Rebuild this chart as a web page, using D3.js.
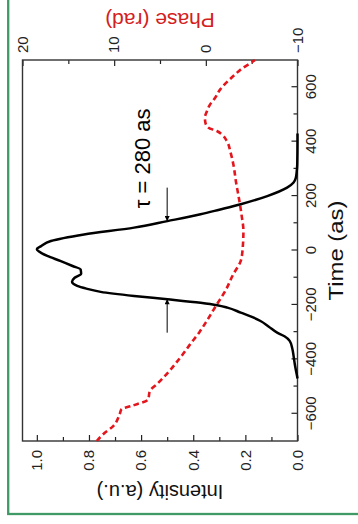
<!DOCTYPE html>
<html>
<head>
<meta charset="utf-8">
<script src="https://cdn.jsdelivr.net/npm/d3@7"></script>
<style>
  body { margin: 0; background: #fff; }
  text { font-family: "Liberation Sans", Arial, sans-serif; }
</style>
</head>
<body>
<svg width="358" height="524"></svg>
<script>
// intensity pulse: [time (as), intensity (a.u.)]
const intensity = [
  [-470, 0], [-455, 0.003], [-420, 0.01], [-394, 0.014], [-360, 0.02], [-332, 0.03],
  [-315, 0.05], [-302, 0.078], [-280, 0.11], [-259, 0.142], [-240, 0.185], [-228, 0.218],
  [-210, 0.269], [-201, 0.308], [-192, 0.372], [-179, 0.499], [-167, 0.627], [-152, 0.755],
  [-140, 0.81], [-130, 0.845], [-115, 0.865], [-100, 0.855], [-85, 0.83], [-70, 0.832],
  [-57, 0.863], [-39, 0.908], [-20, 0.96], [-5, 0.99], [5, 1.0], [15, 0.985],
  [35, 0.946], [59, 0.819], [84, 0.627], [108, 0.499], [133, 0.372], [150, 0.3],
  [170, 0.218], [200, 0.116], [231, 0.04], [250, 0.015], [265, 0.007], [290, 0.003],
  [317, 0.001], [400, 0], [430, 0]
];

// spectral phase: [time (as), phase (rad)]
const phase = [
  [-700, 11.9], [-675, 11.2], [-645, 10.1], [-602, 9.4], [-583, 9.2], [-571, 8.1],
  [-547, 6.3], [-516, 6.1], [-490, 5.3], [-455, 4.3], [-394, 2.8], [-344, 1.7],
  [-300, 0.7], [-259, -0.1], [-198, -1.2], [-150, -2.1], [-87, -3.0], [-39, -3.8],
  [0, -4.0], [72, -4.1], [130, -3.9], [194, -3.6], [250, -3.3], [317, -3.0],
  [360, -2.7], [402, -2.3], [425, -1.8], [439, -1.2], [451, -0.3], [470, 0.05],
  [488, 0.1], [510, -0.1], [537, -0.47], [560, -1.0], [592, -1.57], [641, -3.0],
  [670, -4.0], [696, -5.2], [700, -5.35]
];

const timeTicks = [-600, -400, -200, 0, 200, 400, 600];
const timeMinor = [-500, -300, -100, 100, 300, 500];
const intTicks = [0.0, 0.2, 0.4, 0.6, 0.8, 1.0];
const intMinor = [0.1, 0.3, 0.5, 0.7, 0.9];
const phaseTicks = [-10, 0, 10, 20];
const phaseMinor = [-5, 5, 15];

// FWHM annotation
const fwhmLabel = "\u03c4 = 280 as";
const fwhmArrows = [[231, 108], [-302, -179]]; // [from, to] in time at half maximum
const halfMax = 0.5;

const W = 381, H = 275;
const svg = d3.select('svg');

// green outer frame
svg.append('rect')
  .attr('x', 8.2).attr('y', -10)
  .attr('width', 400).attr('height', 524)
  .attr('fill', 'none')
  .attr('stroke', '#3f9a66')
  .attr('stroke-width', 2.3);

// the whole chart is drawn upright and then turned a quarter to the left
const g = svg.append('g').attr('transform', 'translate(22.5,441) rotate(-90)');

const x = d3.scaleLinear().domain([-700, 700]).range([0, W]);
const yI = d3.scaleLinear().domain([0, 1.055]).range([H, 0]);
const yP = d3.scaleLinear().domain([-10, 20]).range([H, 0]);

const fmt1 = d3.format('.1f');

function style(sel) {
  sel.select('.domain').remove();
  sel.selectAll('line').attr('stroke', '#222').attr('stroke-width', 1.2);
  sel.selectAll('text').attr('fill', '#222').style('font-size', '15px');
}

// bottom: time
g.append('g').attr('transform', `translate(0,${H})`)
  .call(d3.axisBottom(x).tickValues(timeTicks).tickSize(-6).tickPadding(8).tickFormat(d3.format('d')))
  .call(style);
g.append('g').attr('transform', `translate(0,${H})`)
  .call(d3.axisBottom(x).tickValues(timeMinor).tickSize(-4).tickFormat(''))
  .call(style);

// left: intensity
g.append('g')
  .call(d3.axisLeft(yI).tickValues(intTicks).tickSize(-6).tickPadding(9).tickFormat(fmt1))
  .call(style);
g.append('g')
  .call(d3.axisLeft(yI).tickValues(intMinor).tickSize(-4).tickFormat(''))
  .call(style);

// right: phase
g.append('g').attr('transform', `translate(${W},0)`)
  .call(d3.axisRight(yP).tickValues(phaseTicks).tickSize(-6).tickPadding(7).tickFormat(d3.format('d')))
  .call(style);
g.append('g').attr('transform', `translate(${W},0)`)
  .call(d3.axisRight(yP).tickValues(phaseMinor).tickSize(-4).tickFormat(''))
  .call(style);

// plot box
g.append('rect')
  .attr('width', W).attr('height', H)
  .attr('fill', 'none')
  .attr('stroke', '#333')
  .attr('stroke-width', 1.4);

// curves
g.append('path')
  .datum(phase)
  .attr('fill', 'none')
  .attr('stroke', '#e3161d')
  .attr('stroke-width', 2.6)
  .attr('stroke-dasharray', '5.5,3.5')
  .attr('d', d3.line().x(d => x(d[0])).y(d => yP(d[1])).curve(d3.curveMonotoneX));

g.append('path')
  .datum(intensity)
  .attr('fill', 'none')
  .attr('stroke', '#000')
  .attr('stroke-width', 2.5)
  .attr('stroke-linejoin', 'round')
  .attr('d', d3.line().x(d => x(d[0])).y(d => yI(d[1])).curve(d3.curveMonotoneX));

// arrows marking the FWHM
svg.append('defs').append('marker')
  .attr('id', 'head')
  .attr('viewBox', '0 0 10 10')
  .attr('refX', 10).attr('refY', 5)
  .attr('markerWidth', 6).attr('markerHeight', 5)
  .attr('orient', 'auto')
  .append('path').attr('d', 'M0,0 L10,5 L0,10 z').attr('fill', '#000');

g.selectAll('line.arrow')
  .data(fwhmArrows)
  .enter()
  .append('line')
  .attr('class', 'arrow')
  .attr('x1', d => x(d[0])).attr('x2', d => x(d[1]))
  .attr('y1', yI(halfMax)).attr('y2', yI(halfMax))
  .attr('stroke', '#000')
  .attr('stroke-width', 1)
  .attr('marker-end', 'url(#head)');

g.append('text')
  .attr('x', x(155))
  .attr('y', yI(0.595))
  .attr('dominant-baseline', 'central')
  .style('font-size', '22px')
  .attr('fill', '#000')
  .text(fwhmLabel);

// axis titles
g.append('text')
  .attr('x', W / 2).attr('y', H + 38)
  .attr('text-anchor', 'middle')
  .attr('dominant-baseline', 'central')
  .attr('textLength', 100)
  .attr('lengthAdjust', 'spacingAndGlyphs')
  .style('font-size', '20px')
  .attr('fill', '#111')
  .text('Time (as)');

g.append('text')
  .attr('transform', `translate(-51,${H / 2}) rotate(-90)`)
  .attr('text-anchor', 'middle')
  .attr('dominant-baseline', 'central')
  .style('font-size', '20px')
  .attr('fill', '#111')
  .text('Intensity (a.u.)');

g.append('text')
  .attr('transform', `translate(${W + 40},${H / 2}) rotate(-90)`)
  .attr('text-anchor', 'middle')
  .attr('dominant-baseline', 'central')
  .style('font-size', '21px')
  .attr('fill', '#d42020')
  .text('Phase (rad)');
</script>
</body>
</html>
